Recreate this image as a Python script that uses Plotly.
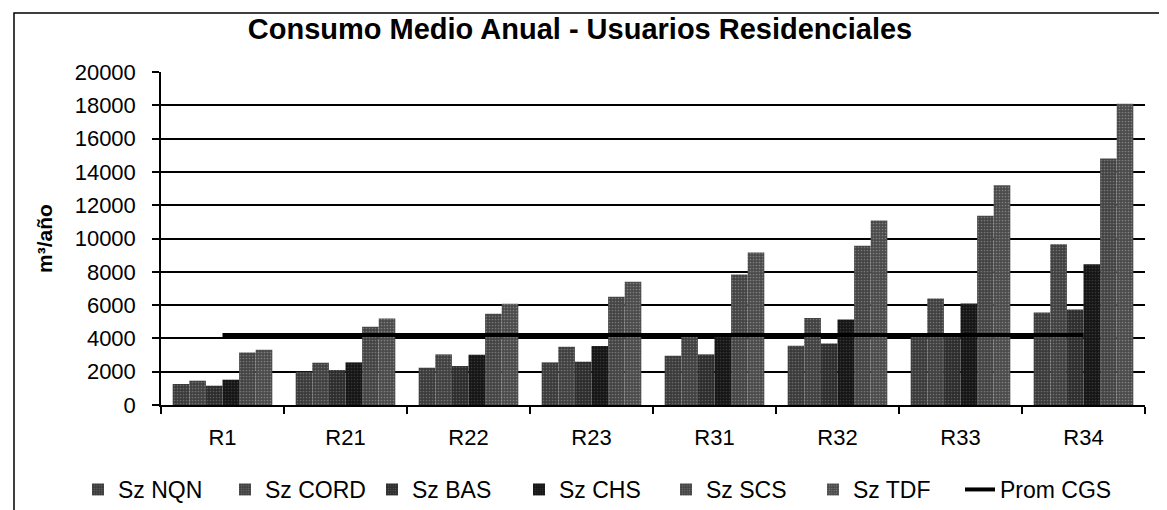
import plotly.graph_objects as go

categories = ["R1", "R21", "R22", "R23", "R31", "R32", "R33", "R34"]
sz_nqn = [1260, 2000, 2240, 2560, 2960, 3560, 4300, 5560]
sz_cord = [1460, 2540, 3040, 3500, 4100, 5220, 6400, 9660]
sz_bas = [1160, 2100, 2340, 2600, 3040, 3700, 4300, 5740]
sz_chs = [1520, 2560, 3020, 3540, 4150, 5140, 6100, 8460]
sz_scs = [3160, 4700, 5480, 6500, 7840, 9560, 11360, 14800]
sz_tdf = [3320, 5200, 6080, 7400, 9160, 11080, 13200, 18100]
prom_cgs = [4200, 4200, 4200, 4200, 4200, 4200, 4200, 4200]

series = [
    ("Sz NQN", sz_nqn, "#3a3a3a", "#9a9a9a"),
    ("Sz CORD", sz_cord, "#404040", "#a5a5a5"),
    ("Sz BAS", sz_bas, "#2c2c2c", "#8a8a8a"),
    ("Sz CHS", sz_chs, "#151515", "#5a5a5a"),
    ("Sz SCS", sz_scs, "#434343", "#ababab"),
    ("Sz TDF", sz_tdf, "#4a4a4a", "#b5b5b5"),
]

FONT = "Liberation Sans, Arial, sans-serif"

fig = go.Figure()
for name, vals, bg, fg in series:
    fig.add_trace(go.Bar(
        name=name, x=categories, y=vals, legend="legend",
        marker=dict(color=bg, line=dict(width=0),
                    pattern=dict(shape=".", fgcolor=fg, bgcolor=bg, size=3, solidity=0.25)),
    ))
fig.add_trace(go.Scatter(
    name="Prom CGS", x=categories, y=prom_cgs, mode="lines", legend="legend2",
    line=dict(color="black", width=4),
))

L, R, T, B = 153, 1137, 64, 397
W, H = 1167, 510
pw, ph = R - L, B - T

legend_common = dict(orientation="h", xanchor="left", yanchor="top",
                     y=(B - 460) / ph, font=dict(size=23, family=FONT),
                     itemwidth=30, bgcolor="rgba(0,0,0,0)", traceorder="normal")

fig.update_layout(
    width=W, height=H,
    margin=dict(l=L, r=W - R, t=T, b=H - B, autoexpand=False),
    paper_bgcolor="white", plot_bgcolor="white",
    barmode="group", bargap=0.19, bargroupgap=0,
    font=dict(family=FONT, size=22, color="black"),
    title=dict(text="<b>Consumo Medio Anual - Usuarios Residenciales</b>",
               x=572 / W, xanchor="center", y=1 - 21 / H, yanchor="middle",
               font=dict(size=29, family=FONT, color="black")),
    showlegend=True,
    legend=dict(x=(70 - L) / pw, entrywidth=102, entrywidthmode="pixels", **legend_common),
    legend2=dict(x=(952 - L) / pw, **legend_common),
    xaxis=dict(showline=True, linecolor="black", linewidth=1.5, automargin=False,
               ticks="outside", tickson="boundaries", ticklen=7, tickcolor="black",
               tickwidth=1.5, showgrid=False, tickfont=dict(size=22),
               ticklabelstandoff=12),
    yaxis=dict(range=[0, 20000], dtick=2000, tickformat="d", automargin=False,
               showline=True, linecolor="black", linewidth=1.5,
               ticks="outside", ticklen=7, tickcolor="black", tickwidth=1.5,
               showgrid=True, gridcolor="black", gridwidth=1.8,
               zeroline=False, tickfont=dict(size=22), ticklabelstandoff=12,
               title=dict(text="<b>m³/año</b>", standoff=16, font=dict(size=21))),
)

fig.add_shape(type="rect", xref="paper", yref="paper",
              x0=(6 - L) / pw, x1=(1180 - L) / pw,
              y0=(B - 520) / ph, y1=(B - 5) / ph,
              line=dict(color="black", width=1.5), fillcolor="rgba(0,0,0,0)", layer="below")

fig.write_html("out.html")
